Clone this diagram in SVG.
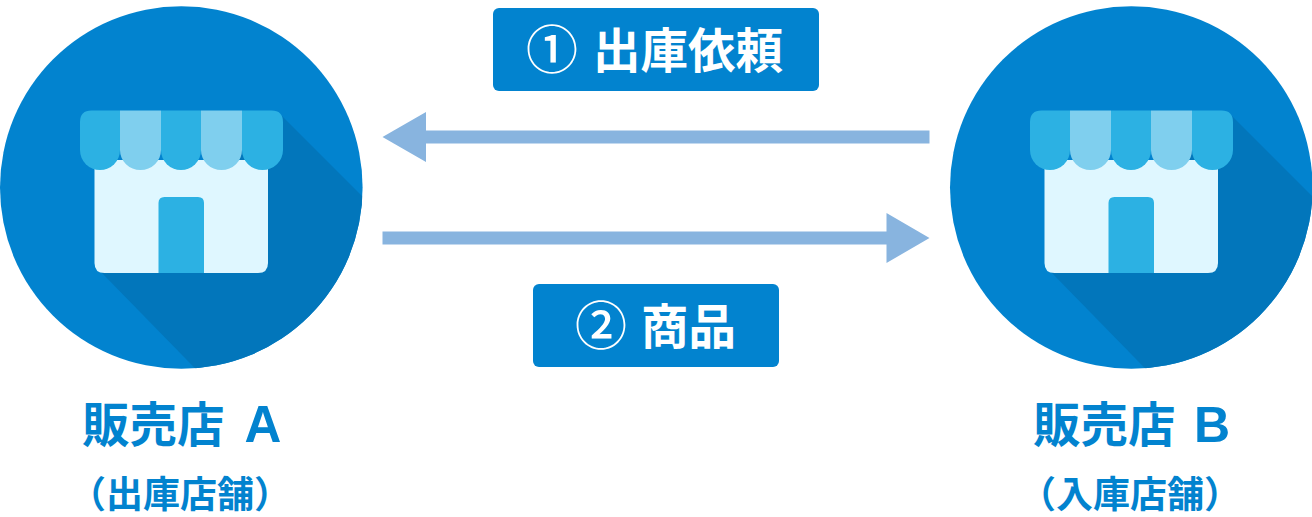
<svg xmlns="http://www.w3.org/2000/svg" width="1312" height="517" viewBox="0 0 1312 517">
<style>
.t{font-family:"Noto Sans CJK JP","Liberation Sans",sans-serif;font-weight:700}
.lat{font-family:"Liberation Sans",sans-serif;font-weight:700}
.blue{fill:#0283cf}
.l{font-size:47.500px}
.s{font-size:37px}
.b{fill:#fff;font-size:47.500px}
.n{font-family:"Noto Sans CJK JP",sans-serif;font-weight:500;fill:#fff;font-size:52px}
.arrow{fill:#88b4df}
.dark{fill:#2cb1e3}
.light{fill:#7fcfee}
</style>
<defs>
<clipPath id="c"><circle cx="181.3" cy="187.5" r="181.3"/></clipPath>
<g id="store">
<circle cx="181.3" cy="187.500" r="181.3" fill="#0283cf"/>
<path d="M278 112L400 234V400H226L100 271Z" fill="#0276bb" clip-path="url(#c)"/>
<path d="M94.500 160H268V263Q268 273 258 273H104.500Q94.500 273 94.500 263Z" fill="#dff7ff"/>
<path class="dark" d="M158.500 273V203Q158.500 197 164.500 197H198Q204 197 204 203V273Z"/>
<path class="dark" d="M80 122Q80 110.500 91.500 110.500H120V150A20 20 0 0 1 100 170A20 20 0 0 1 80 150Z"/>
<path class="light" d="M120 110.500H161V150A20.500 20 0 0 1 120 150Z"/>
<path class="dark" d="M161 110.500H201V150A20 20 0 0 1 161 150Z"/>
<path class="light" d="M201 110.500H242V150A20.500 20 0 0 1 201 150Z"/>
<path class="dark" d="M242 110.500H271.500Q283 110.500 283 122V150A20.500 20 0 0 1 242 150Z"/>
</g>
</defs>
<g id="connectors">
<path id="arrow-request" class="arrow" d="M929.500 130.500V143.500H426V162L382.500 137L426 112V130.500Z"/>
<path id="arrow-goods" class="arrow" d="M382.500 231.500V244.500H886.500V263L929.500 238L886.500 213V231.500Z"/>
</g>
<g id="store-a">
<use href="#store"/>
<text class="t l blue" x="82" y="442">販売店</text>
<text class="lat blue" x="244.500" y="442" font-size="51">A</text>
<text class="t s blue" x="69" y="508">（出庫店舗）</text>
</g>
<g id="store-b">
<use href="#store" x="950"/>
<text class="t l blue" x="1033" y="442">販売店</text>
<text class="lat blue" x="1194" y="442" font-size="50">B</text>
<text class="t s blue" x="1019" y="508">（入庫店舗）</text>
</g>
<g id="label-request">
<rect class="blue" x="493" y="8" width="326" height="83" rx="6"/>
<text class="n" x="526" y="69">①</text>
<text class="t b" x="593" y="67.500">出庫依頼</text>
</g>
<g id="label-goods">
<rect class="blue" x="533" y="284" width="246" height="83" rx="6"/>
<text class="n" x="575" y="345">②</text>
<text class="t b" x="641" y="343.500">商品</text>
</g>
</svg>
